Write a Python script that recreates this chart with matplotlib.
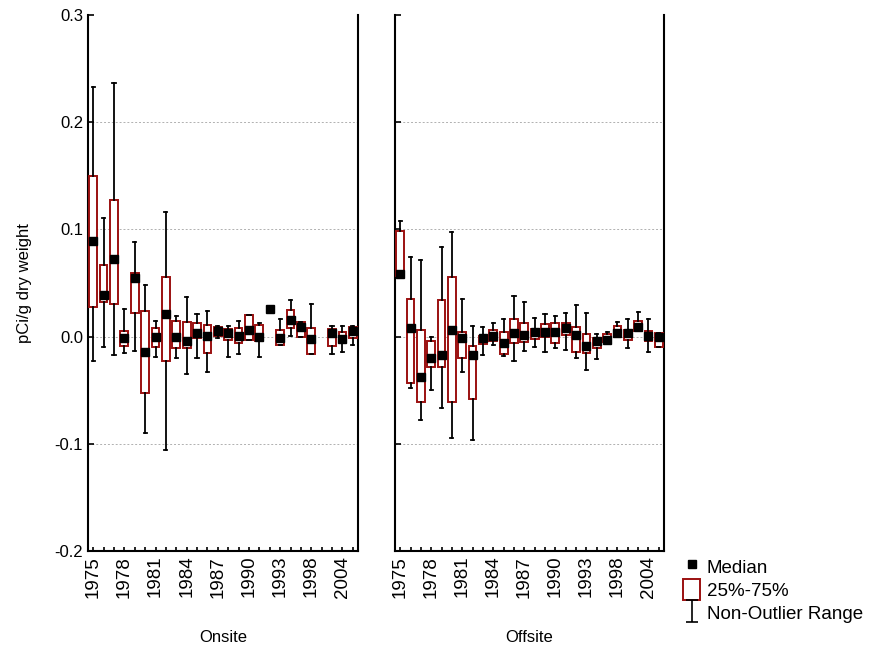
import numpy as np
import matplotlib
matplotlib.use('Agg')
import matplotlib.pyplot as plt
from matplotlib.path import Path
from matplotlib.lines import Line2D
from matplotlib.patches import Patch

plt.rcParams['font.family'] = ['Liberation Sans', 'DejaVu Sans']

# sampling years (26 categories, every third one labelled)
years = list(range(1975, 1994)) + [1994, 1996, 1998, 2000, 2002, 2004, 2006]

# Onsite: whisker high, q3, median, q1, whisker low   (None = no data)
on_hi  = [0.233, 0.111, 0.237, 0.026, 0.088, 0.048, 0.015, 0.116, 0.019, 0.037, 0.021, 0.024, 0.010,
          0.010, 0.015, 0.020, 0.013, 0.026, 0.0165, 0.0345, 0.014, 0.030, None, 0.010, 0.010, 0.010]
on_q3  = [0.150, 0.067, 0.127, 0.005, 0.059, 0.024, 0.008, 0.056, 0.015, 0.014, 0.013, 0.011, 0.009,
          0.007, 0.008, 0.020, 0.011, 0.026, 0.006, 0.0246, 0.014, 0.008, None, 0.007, 0.004, 0.009]
on_med = [0.089, 0.039, 0.072, -0.001, 0.055, -0.014, 0.000, 0.021, 0.000, -0.004, 0.003, 0.001, 0.005,
          0.003, 0.001, 0.006, 0.000, 0.026, -0.001, 0.0153, 0.0088, -0.0025, None, 0.003, -0.002, 0.005]
on_q1  = [0.028, 0.032, 0.030, -0.009, 0.022, -0.053, -0.010, -0.023, -0.011, -0.011, -0.001, -0.015, 0.001,
          -0.003, -0.006, -0.003, -0.004, 0.026, -0.008, 0.008, 0.000, -0.016, None, -0.009, -0.005, -0.0015]
on_lo  = [-0.023, -0.010, -0.017, -0.015, -0.013, -0.090, -0.019, -0.106, -0.020, -0.035, -0.020, -0.033, -0.001,
          -0.019, -0.016, -0.003, -0.019, 0.026, -0.008, 0.001, 0.000, -0.016, None, -0.016, -0.014, -0.008]

# Offsite
off_hi  = [0.108, 0.0745, 0.071, 0.000, 0.084, 0.0975, 0.035, 0.010, 0.0093, 0.0125, 0.016, 0.038, 0.032,
           0.017, 0.021, 0.0196, 0.0224, 0.0295, 0.0224, 0.0025, 0.0044, 0.0136, 0.0167, 0.023, 0.0167, 0.003]
off_q3  = [0.0985, 0.035, 0.0065, -0.0037, 0.034, 0.056, 0.0047, -0.0087, 0.001, 0.006, 0.0044, 0.0165, 0.013,
           0.0075, 0.012, 0.013, 0.0128, 0.0093, 0.0025, -0.0013, 0.002, 0.010, 0.006, 0.015, 0.005, 0.003]
off_med = [0.058, 0.008, -0.038, -0.020, -0.017, 0.006, -0.0013, -0.017, -0.001, 0.001, -0.0056, 0.003, 0.0013,
           0.0044, 0.0044, 0.0044, 0.0084, 0.0016, -0.0087, -0.004, -0.0028, 0.0035, 0.003, 0.0093, 0.0009, 0.000]
off_q1  = [0.0566, -0.043, -0.061, -0.028, -0.028, -0.061, -0.020, -0.058, -0.007, -0.004, -0.0164, -0.0056, -0.005,
           -0.002, -0.0003, -0.006, 0.0013, -0.014, -0.0155, -0.0103, -0.005, 0.0003, -0.0028, 0.0056, -0.004, -0.0093]
off_lo  = [0.0566, -0.0475, -0.078, -0.050, -0.067, -0.095, -0.0326, -0.096, -0.017, -0.008, -0.018, -0.023, -0.013,
           -0.010, -0.014, -0.011, -0.0124, -0.0196, -0.031, -0.021, -0.005, 0.0003, -0.0103, 0.0056, -0.014, -0.0093]

box_red = '#9b1010'

fig = plt.figure(figsize=(8.72, 6.49), dpi=100)
ax1 = fig.add_axes([88/872, 1-551/649, 270/872, 536/649])
ax2 = fig.add_axes([395/872, 1-551/649, 269/872, 536/649])


def draw_panel(ax, hi, q3, med, q1, lo, title):
    stats = []
    pos = []
    for i in range(len(years)):
        if med[i] is None:
            continue
        stats.append(dict(med=med[i], q1=q1[i], q3=q3[i], whislo=lo[i], whishi=hi[i], fliers=[]))
        pos.append(i)
    ax.bxp(stats, positions=pos, widths=0.75, patch_artist=True, showfliers=False,
           boxprops=dict(facecolor='white', edgecolor=box_red, linewidth=1.4),
           whiskerprops=dict(color='black', linewidth=1.3),
           capprops=dict(color='black', linewidth=1.3),
           capwidths=0.3,
           medianprops=dict(linewidth=0), zorder=3)
    ax.plot(pos, [med[i] for i in pos], 's', color='black', ms=6, zorder=5)

    ax.set_xlim(-0.5, len(years) - 0.5)
    ax.set_ylim(-0.2, 0.3)
    ax.set_yticks([-0.2, -0.1, 0.0, 0.1, 0.2, 0.3])
    # dotted grid only at the inner ticks
    for yv in [-0.1, 0.0, 0.1, 0.2]:
        ax.axhline(yv, linestyle=(0, (2, 2)), color='#b0b0b0', linewidth=0.7, zorder=0)
    ax.set_xticks(range(len(years)))
    ax.set_xticklabels([str(y) if i % 3 == 0 else '' for i, y in enumerate(years)],
                       rotation=90, fontsize=13.5)
    ax.tick_params(direction='in', length=4, width=1.2)
    ax.tick_params(axis='x', length=3)
    ax.spines['top'].set_visible(False)
    for s in ['left', 'right', 'bottom']:
        ax.spines[s].set_linewidth(1.5)
    ax.set_xlabel(title, fontsize=12, labelpad=23)


draw_panel(ax1, on_hi, on_q3, on_med, on_q1, on_lo, 'Onsite')
draw_panel(ax2, off_hi, off_q3, off_med, off_q1, off_lo, 'Offsite')

ax1.set_yticklabels(['-0.2', '-0.1', '0.0', '0.1', '0.2', '0.3'], fontsize=12)
ax1.set_ylabel('pCi/g dry weight', fontsize=12, labelpad=16)
ax2.set_yticklabels([])

ibeam = Path([(-0.5, -1), (0.5, -1), (0, -1), (0, 1), (-0.5, 1), (0.5, 1)],
             [Path.MOVETO, Path.LINETO, Path.MOVETO, Path.LINETO, Path.MOVETO, Path.LINETO])
handles = [
    Line2D([], [], marker='s', color='black', linestyle='none', ms=6),
    Patch(facecolor='white', edgecolor=box_red, linewidth=1.4),
    Line2D([], [], marker=ibeam, color='black', markerfacecolor='none', linestyle='none', ms=16, mew=1.2),
]
fig.legend(handles, ['Median', '25%-75%', 'Non-Outlier Range'], loc='upper left',
           bbox_to_anchor=(670/872, 1-543/649), frameon=False, fontsize=13.5,
           handlelength=0.9, handleheight=1.3, handletextpad=0.35, labelspacing=0.15,
           borderpad=0.2)

fig.savefig('out.png', dpi=100)
